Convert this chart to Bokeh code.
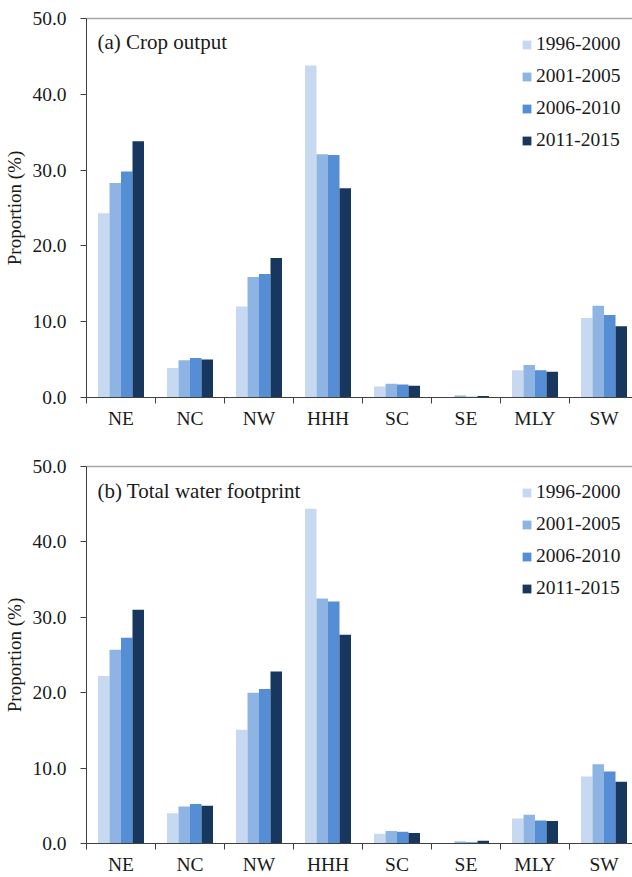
from bokeh.plotting import figure
from bokeh.models import (ColumnDataSource, FixedTicker, Legend, LegendItem, Label,
                          LinearAxis, NumeralTickFormatter, Range1d)
from bokeh.layouts import column
from bokeh.embed import file_html
from bokeh.resources import INLINE

# Regions and periods
regions = ["NE", "NC", "NW", "HHH", "SC", "SE", "MLY", "SW"]
periods = ["1996-2000", "2001-2005", "2006-2010", "2011-2015"]
colors = ["#C6D9F1", "#8DB4E2", "#558ED5", "#17375E"]

# (a) Crop output proportion (%) by period
crop_1996_2000 = [24.3, 3.9, 12.0, 43.8, 1.45, 0.05, 3.6, 10.5]
crop_2001_2005 = [28.3, 4.9, 15.9, 32.1, 1.8, 0.25, 4.3, 12.1]
crop_2006_2010 = [29.8, 5.2, 16.3, 32.0, 1.7, 0.1, 3.6, 10.9]
crop_2011_2015 = [33.8, 5.0, 18.4, 27.6, 1.55, 0.2, 3.4, 9.4]

# (b) Total water footprint proportion (%) by period
wf_1996_2000 = [22.2, 4.0, 15.1, 44.4, 1.3, 0.05, 3.3, 8.9]
wf_2001_2005 = [25.7, 4.9, 20.0, 32.5, 1.65, 0.25, 3.8, 10.5]
wf_2006_2010 = [27.3, 5.25, 20.5, 32.1, 1.55, 0.15, 3.05, 9.55]
wf_2011_2015 = [31.0, 5.0, 22.8, 27.7, 1.4, 0.35, 3.0, 8.2]

y_ticks = [0, 10, 20, 30, 40, 50]

FONT = "Liberation Serif"
TEXT = "#1a1a1a"
AXIS = "#404040"


def panel(title, series, height, border_top, border_bottom, frame_h, title_off):
    p = figure(width=632, height=height, output_backend="svg", toolbar_location=None,
               x_range=Range1d(0, 546 / 69), y_range=Range1d(0, 50),
               min_border_left=86, min_border_right=0,
               min_border_top=border_top, min_border_bottom=border_bottom)
    p.outline_line_color = None
    p.grid.visible = False
    p.background_fill_color = "white"
    p.border_fill_color = "white"

    n = len(series)
    width = 1 / 6
    items = []
    for j, (name, vals) in enumerate(zip(periods, series)):
        xs = [i + 0.5 + (j - (n - 1) / 2) * width for i in range(len(regions))]
        src = ColumnDataSource(dict(x=xs, top=vals, region=regions))
        r = p.vbar(x="x", top="top", bottom=0, width=width, source=src,
                   fill_color=colors[j], line_color=None)
        items.append(LegendItem(label=name, renderers=[r]))

    # x axis: region names centred, boundary ticks between groups
    xa = p.below[0]
    xa.ticker = FixedTicker(ticks=[i + 0.5 for i in range(len(regions))],
                            minor_ticks=list(range(len(regions) + 1)))
    xa.major_label_overrides = {i + 0.5: r for i, r in enumerate(regions)}
    xa.major_tick_line_color = None
    xa.major_tick_out = 0
    xa.major_tick_in = 0
    xa.minor_tick_out = 6
    xa.minor_tick_in = 0
    xa.minor_tick_line_color = AXIS
    xa.axis_line_color = AXIS
    xa.major_label_standoff = 4
    xa.major_label_text_font = FONT
    xa.major_label_text_font_size = "19.5px"
    xa.major_label_text_color = TEXT

    ya = p.left[0]
    ya.ticker = FixedTicker(ticks=y_ticks)
    ya.formatter = NumeralTickFormatter(format="0.0")
    ya.minor_tick_line_color = None
    ya.major_tick_out = 6
    ya.major_tick_in = 0
    ya.major_tick_line_color = AXIS
    ya.axis_line_color = AXIS
    ya.major_label_standoff = 14
    ya.major_label_text_font = FONT
    ya.major_label_text_font_size = "19.5px"
    ya.major_label_text_color = TEXT
    ya.axis_label = "Proportion (%)"
    ya.axis_label_text_font = FONT
    ya.axis_label_text_font_size = "19px"
    ya.axis_label_text_font_style = "normal"
    ya.axis_label_text_color = TEXT
    ya.axis_label_standoff = 4

    # light line along the top of the plotting area (axis without ticks or labels)
    top_line = LinearAxis(ticker=FixedTicker(ticks=[]), axis_line_color="#A6A6A6",
                          axis_line_width=1.3, major_tick_line_color=None,
                          minor_tick_line_color=None, major_label_text_font_size="0px",
                          major_tick_out=0, major_tick_in=0, major_label_standoff=0)
    p.add_layout(top_line, "above")

    p.add_layout(Label(x=11, y=frame_h - title_off, x_units="screen", y_units="screen",
                       text=title, text_font=FONT, text_font_size="21px",
                       text_color=TEXT, text_baseline="middle"))

    legend = Legend(items=items, location=(435, frame_h - 134), orientation="vertical",
                    label_text_font=FONT, label_text_font_size="19.5px",
                    label_text_color=TEXT, glyph_width=11, glyph_height=11,
                    label_height=20, label_standoff=4, spacing=10,
                    padding=0, margin=0, border_line_color=None,
                    background_fill_alpha=0)
    p.add_layout(legend)
    return p


top = panel("(a) Crop output",
            [crop_1996_2000, crop_2001_2005, crop_2006_2010, crop_2011_2015],
            431, 18, 33, 380, 24)
bottom = panel("(b) Total water footprint",
               [wf_1996_2000, wf_2001_2005, wf_2006_2010, wf_2011_2015],
               446, 35, 33, 378, 25)

layout = column(top, bottom, spacing=0)
open("out.html", "w").write(file_html(layout, INLINE))
